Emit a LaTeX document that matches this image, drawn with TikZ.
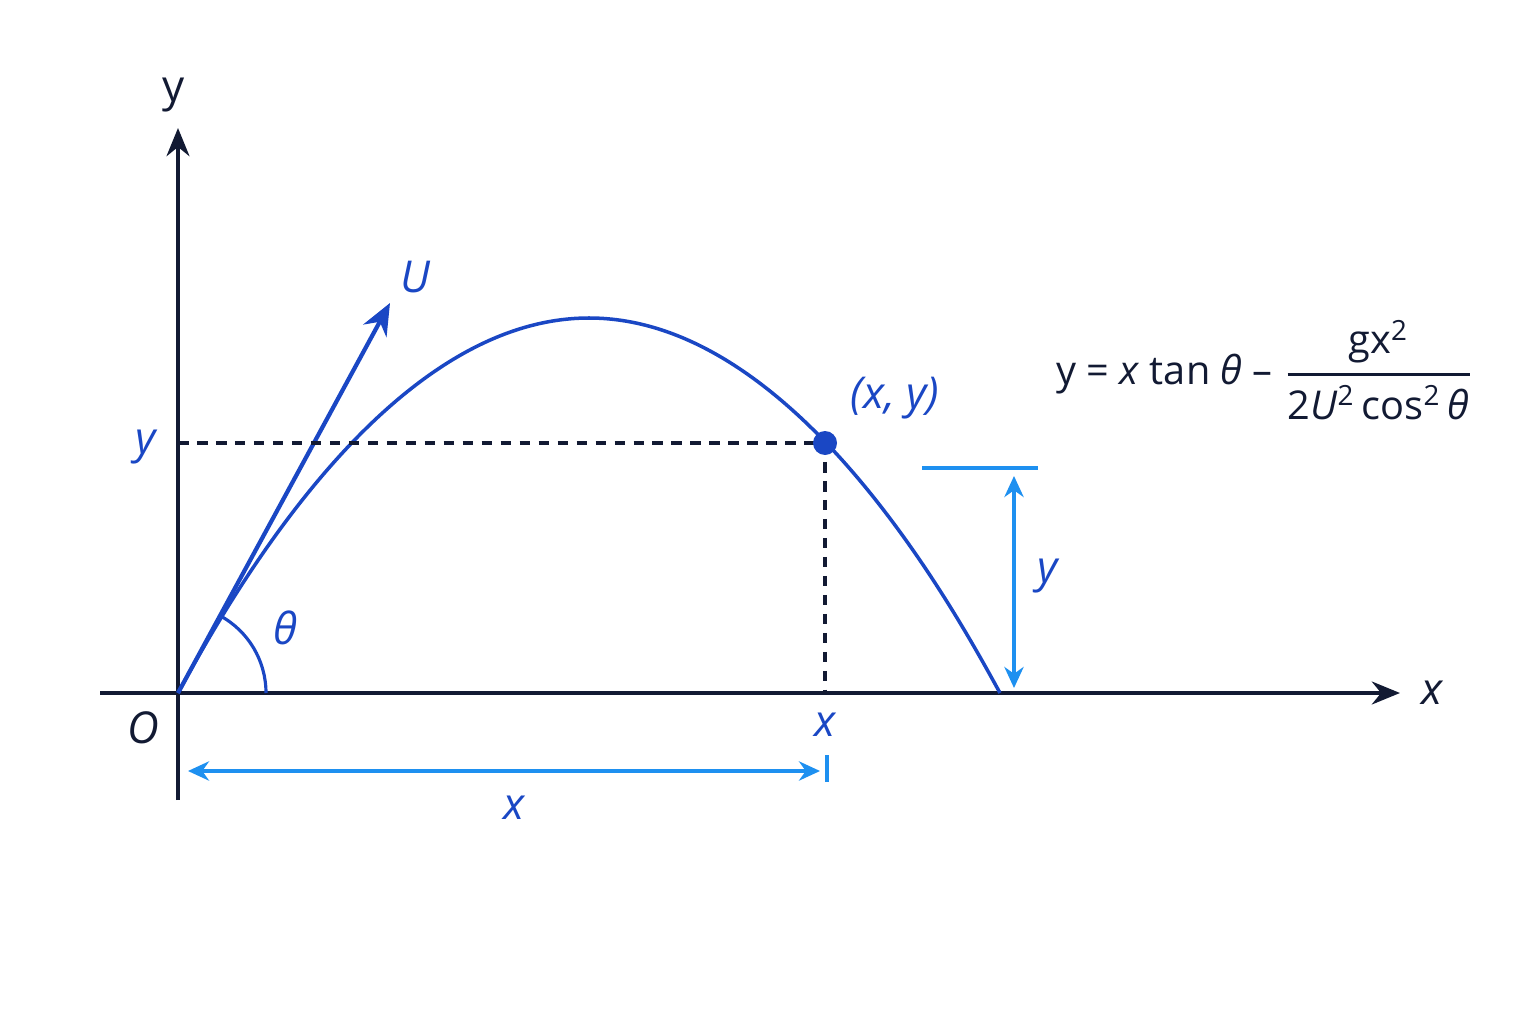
\documentclass[tikz,border=0pt]{standalone}
\usepackage{amsmath}
\usepackage{fontspec}
\setmainfont{Open Sans}
\usetikzlibrary{arrows.meta}
\definecolor{axisdark}{HTML}{121A33}
\definecolor{pathblue}{HTML}{1A47C4}
\definecolor{dimblue}{HTML}{1E90F0}

\begin{document}
\begin{tikzpicture}[x=1cm,y=1cm,
    axis/.style={axisdark, line width=1.2pt},
    dim/.style={dimblue, line width=0.9pt},
    lbl/.style={pathblue, font=\fontsize{12.5}{14}\selectfont\itshape},
    guide/.style={axisdark, line width=0.9pt, dash pattern=on 3pt off 2.4pt}]
  \useasboundingbox (0,0) rectangle (15.36,10.24);
  \coordinate (O) at (1.78,3.31);
  \coordinate (top) at (5.89,7.06);
  \coordinate (land) at (10.00,3.31);
  \coordinate (P) at (8.25,5.81);
  \coordinate (Yp) at (1.78,5.81);
  \coordinate (Xp) at (8.25,3.31);
  \coordinate (U) at (3.90,7.21);
  \coordinate (arcstart) at (2.66,3.31);

  % axes
  \draw[axis, -{Stealth[length=8pt,width=6.5pt]}] (1.78,2.24) -- (1.78,8.96) coordinate (ytip);
  \draw[axis, -{Stealth[length=8pt,width=6.5pt]}] (1.00,3.31) -- (14.00,3.31) coordinate (xtip);
  \node[axisdark, font=\fontsize{12.5}{14}\selectfont] (ylab) at (1.74,9.29) {y};
  \node[axisdark, font=\fontsize{12.5}{14}\selectfont\itshape] (xlab) at (14.32,3.31) {x};
  \node[axisdark, font=\fontsize{12.5}{14}\selectfont\itshape] (olab) at (1.43,2.96) {O};

  % trajectory and velocity
  \draw[pathblue, line width=1pt] (O) parabola bend (top) (land);
  \draw[pathblue, line width=1.2pt, -{Stealth[length=9pt,width=7.5pt]}] (O) -- (U);
  \node[lbl] (ulab) at (4.15,7.47) {U};
  \draw[pathblue, line width=0.9pt] (arcstart) arc[start angle=0, end angle=61.5, radius=0.88];
  \node[lbl] (thlab) at (2.85,3.96) {θ};

  % point (x, y)
  \draw[guide] (Yp) -- (P);
  \draw[guide] (P) -- (Xp);
  \fill[pathblue] (P) circle[radius=0.12];
  \node[lbl] (plab) at (8.95,6.26) {(x, y)};
  \node[lbl] (ylab2) at (1.46,5.77) {y};
  \node[lbl] (xlab2) at (8.25,2.99) {x};

  % dimensions
  \coordinate (d1) at (1.88,2.53);
  \coordinate (d2) at (8.20,2.53);
  \draw[dim] (8.27,2.69) -- (8.27,2.42);
  \draw[dim, {Stealth[length=6pt,width=5.5pt]}-{Stealth[length=6pt,width=5.5pt]}] (d1) -- (d2);
  \node[lbl] (xdim) at (5.14,2.16) {x};
  \coordinate (h1) at (9.22,5.56);
  \coordinate (h2) at (10.38,5.56);
  \draw[dim] (h1) -- (h2);
  \draw[dim, {Stealth[length=6pt,width=5.5pt]}-{Stealth[length=6pt,width=5.5pt]}] (10.14,5.48) -- (10.14,3.36);
  \node[lbl] (ydim) at (10.48,4.48) {y};

  % equation
  \node[axisdark, font=\fontsize{11.3}{13}\selectfont] (eqn) at (12.65,6.54)
    {$\displaystyle\text{y = \textit{x} tan \textit{θ} –}\;\genfrac{}{}{0.9pt}{}{\text{gx\textsuperscript{2}}}{\text{2\textit{U}\textsuperscript{2}\,cos\textsuperscript{2}\,\textit{θ}}}$};
\end{tikzpicture}
\end{document}
